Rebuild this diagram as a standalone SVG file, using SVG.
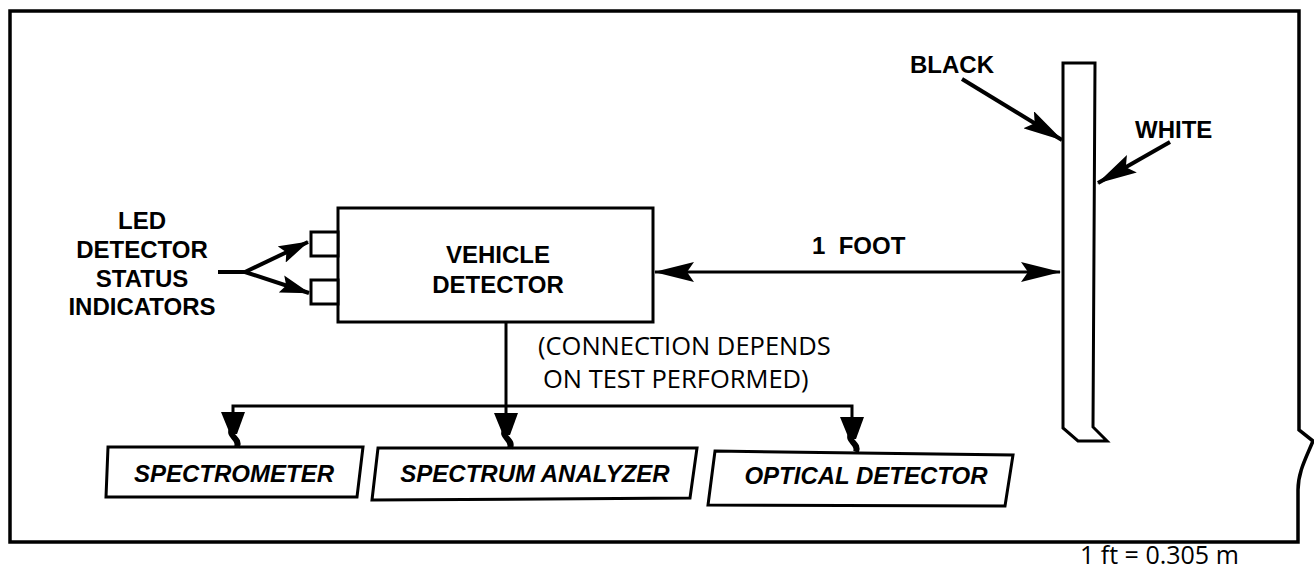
<svg xmlns="http://www.w3.org/2000/svg" width="1314" height="573" viewBox="0 0 1314 573">
  <style>
    .ln { fill: none; stroke: #000; stroke-width: 3; stroke-linejoin: miter; }
    .thk { fill: none; stroke: #000; stroke-width: 4; }
    .box { fill: #fff; stroke: #000; stroke-width: 3; }
    .lbl { font-family: "Liberation Sans", Arial, sans-serif; font-weight: bold; font-size: 24px; fill: #000; }
    .ital { font-family: "Liberation Sans", Arial, sans-serif; font-weight: bold; font-style: italic; font-size: 24px; fill: #000; }
    .note { font-family: "Open Sans", "Liberation Sans", sans-serif; font-size: 25.5px; fill: #000; }
  </style>
  <defs>
    <marker id="big" viewBox="0 0 40 20" refX="39" refY="10" markerWidth="40" markerHeight="20" markerUnits="userSpaceOnUse" orient="auto-start-reverse">
      <path d="M0,0 L40,10 L0,20 L7,10 Z" fill="#000"/>
    </marker>
    <marker id="small" viewBox="0 0 30 18" refX="29" refY="9" markerWidth="30" markerHeight="18" markerUnits="userSpaceOnUse" orient="auto">
      <path d="M0,0 L30,9 L0,18 L5,9 Z" fill="#000"/>
    </marker>
    <!-- downward head with a curled tail, used for the instrument drops -->
    <g id="drop">
      <path d="M-12,0 L12,0 L4,22 L-3,22 Z" fill="#000"/>
      <path d="M0,16 C-7,24 8,26 4,35" fill="none" stroke="#000" stroke-width="6"/>
    </g>
  </defs>

  <!-- outer frame with broken right edge -->
  <g id="frame">
    <path class="ln" style="stroke-width:3.5" d="M10,542 L10,11 L1299,11 L1299,430 L1313,441 C1306,458 1298,472 1298,490 L1298,542 Z"/>
  </g>

  <!-- target post -->
  <g id="post">
    <path class="box" d="M1063,63 L1095,63 L1093,427 L1107,441 L1078,441 L1063,428 Z"/>
  </g>

  <g id="led-label">
    <text class="lbl" x="142" y="229" text-anchor="middle">LED</text>
    <text class="lbl" x="142" y="258" text-anchor="middle">DETECTOR</text>
    <text class="lbl" x="142" y="287" text-anchor="middle">STATUS</text>
    <text class="lbl" x="142" y="315" text-anchor="middle">INDICATORS</text>
  </g>

  <g id="vehicle-detector">
    <rect class="box" x="338" y="208" width="315" height="114"/>
    <rect class="box" x="311" y="232" width="27" height="24"/>
    <rect class="box" x="311" y="280" width="27" height="24"/>
    <text class="lbl" x="498" y="263" text-anchor="middle">VEHICLE</text>
    <text class="lbl" x="498" y="293" text-anchor="middle">DETECTOR</text>
  </g>

  <g id="spectrometer">
    <path class="box" d="M108,447 L363,447 L357,497 L106,497 Z"/>
    <text class="ital" x="234" y="482" text-anchor="middle">SPECTROMETER</text>
  </g>

  <g id="spectrum-analyzer">
    <path class="box" d="M378,448 L697,448 L690,498 L372,500 Z"/>
    <text class="ital" x="535" y="482" text-anchor="middle">SPECTRUM ANALYZER</text>
  </g>

  <g id="optical-detector">
    <path class="box" d="M715,451 L1013,455 L1005,506 L708,505 Z"/>
    <text class="ital" x="866" y="484" text-anchor="middle">OPTICAL DETECTOR</text>
  </g>

  <g id="labels">
    <text class="lbl" x="910" y="73">BLACK</text>
    <text class="lbl" x="1135" y="138">WHITE</text>
    <text class="lbl" x="812" y="254" xml:space="preserve">1  FOOT</text>
    <text class="note" x="538" y="355">(CONNECTION DEPENDS</text>
    <text class="note" x="543" y="388">ON TEST PERFORMED)</text>
    <text class="note" x="1080" y="564" style="font-size:25px">1 ft = 0.305 m</text>
  </g>

  <g id="connectors">
    <!-- LED indicator pointers -->
    <path class="thk" d="M218,272 L245,272"/>
    <path class="thk" d="M245,272 L308,242" marker-end="url(#small)"/>
    <path class="thk" d="M245,272 L309,293" marker-end="url(#small)"/>
    <!-- distance dimension -->
    <path class="ln" d="M655,272 L1060,272" marker-start="url(#big)" marker-end="url(#big)"/>
    <!-- surface callouts -->
    <path class="thk" d="M962,79 L1062,140" marker-end="url(#big)"/>
    <path class="thk" d="M1170,142 L1098,183" marker-end="url(#big)"/>
    <!-- instrument bus -->
    <path class="ln" d="M506,322 L506,414"/>
    <path class="ln" d="M233,413 L233,406 L852,406 L852,418"/>
    <use href="#drop" x="233" y="412"/>
    <use href="#drop" x="506" y="413"/>
    <use href="#drop" x="852" y="417"/>
  </g>
</svg>
